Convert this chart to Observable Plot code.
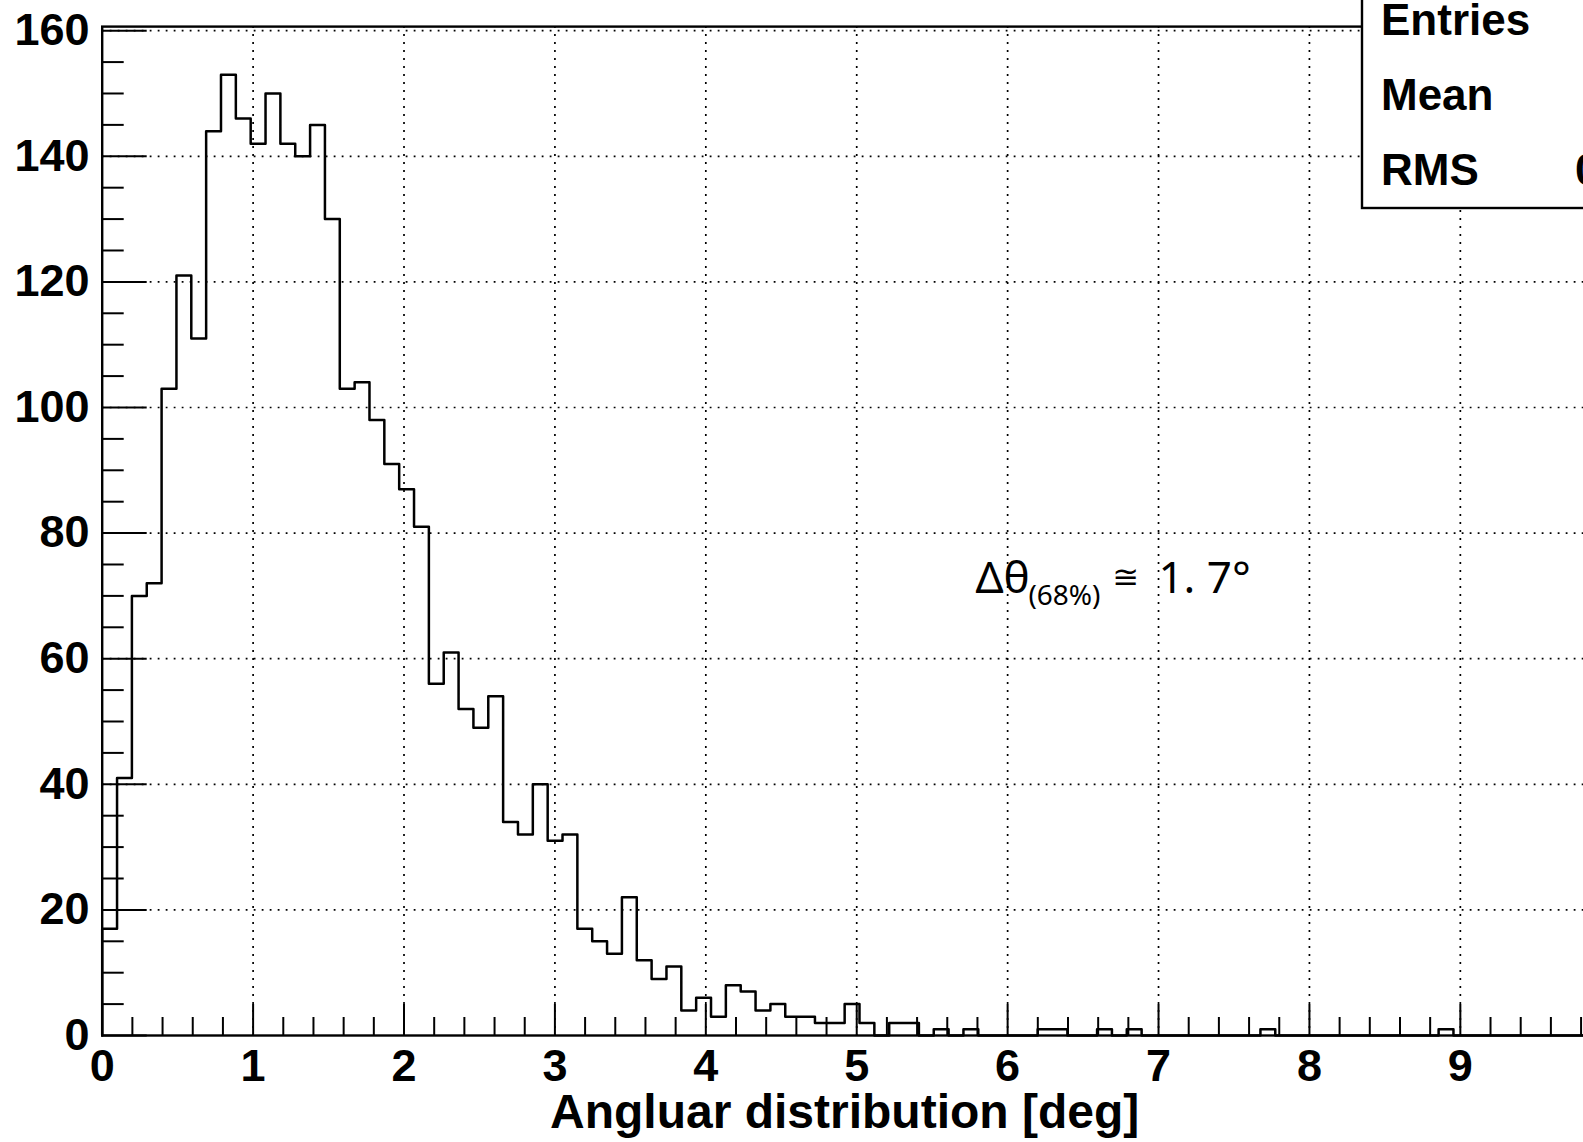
<!DOCTYPE html>
<html><head><meta charset="utf-8">
<script src="https://cdn.jsdelivr.net/npm/d3@7"></script>
<script src="https://cdn.jsdelivr.net/npm/@observablehq/plot@0.6"></script>
<style>html,body{margin:0;padding:0;overflow:hidden;background:#fff}svg{max-width:none !important;display:block}</style>
</head><body><div id="chart"></div>
<script>
// ---- data (100 bins starting at 0) ----
const binWidth = 0.0984;
const counts = [
  17, 41, 70, 72, 103, 121, 111, 144, 153, 146,
  142, 150, 142, 140, 145, 130, 103, 104, 98, 91,
  87, 81, 56, 61, 52, 49, 54, 34, 32, 40,
  31, 32, 17, 15, 13, 22, 12, 9, 11, 4,
  6, 3, 8, 7, 4, 5, 3, 3, 2, 2,
  5, 2, 0, 2, 2, 0, 1, 0, 1, 0,
  0, 0, 0, 1, 1, 0, 0, 1, 0, 1,
  0, 0, 0, 0, 0, 0, 0, 0, 1, 0,
  0, 0, 0, 0, 0, 0, 0, 0, 0, 0,
  1, 0, 0, 0, 0, 0, 0, 0, 0, 0
];
const xTickLabels = [0, 1, 2, 3, 4, 5, 6, 7, 8, 9];
const yTickLabels = [0, 20, 40, 60, 80, 100, 120, 140, 160];
const xTitle = "Angluar distribution [deg]";
const statLabels = ["Entries", "Mean", "RMS"];
const annotation = {x: 5.79, y: 70.4, main: "Δθ", sub: "(68%)", rel: "≅", val: "1. 7°"};

// ---- derived ----
const nBins = counts.length;
const xMax = nBins * binWidth;
const yMax = 160.65;
const steps = [{x: 0, y: 0}];
counts.forEach((c, k) => { steps.push({x: k * binWidth, y: c}); steps.push({x: (k + 1) * binWidth, y: c}); });
steps.push({x: xMax, y: 0});
const xMinor = d3.range(0.2, xMax, 0.2).filter(v => Math.abs(v - Math.round(v)) > 1e-6);
const yMinor = d3.range(5, 160.01, 5).filter(v => v % 20 !== 0);
const xGrid = xTickLabels.filter(v => v > 0);
const yGrid = yTickLabels.filter(v => v > 0);

const W = 1700, H = 1142;
const mL = 101.7, mT = 26.1, mB = 107;
const frameRight = 1586.6;
const mR = W - frameRight;
const frameW = frameRight - mL, frameH = H - mB - mT;
const dots = {stroke: "black", strokeWidth: 1.7, strokeDasharray: "1.8 6.2"};

const chart = Plot.plot({
  width: W, height: H,
  marginLeft: mL, marginRight: mR, marginTop: mT, marginBottom: mB,
  x: {domain: [0, xMax]},
  y: {domain: [0, yMax]},
  style: {fontFamily: "'Liberation Sans', Arial, Helvetica, sans-serif", background: "white", color: "black", overflow: "visible", maxWidth: "none"},
  marks: [
    Plot.ruleX(xGrid, {x: d => d, ...dots}),
    Plot.ruleY(yGrid, {y: d => d, ...dots}),
    Plot.line(steps, {x: "x", y: "y", stroke: "black", strokeWidth: 2.5}),
    Plot.tickX(xTickLabels, {x: d => d, stroke: "black", strokeWidth: 2, insetTop: frameH - 31}),
    Plot.tickX(xMinor, {x: d => d, stroke: "black", strokeWidth: 2, insetTop: frameH - 18}),
    Plot.tickY(yTickLabels, {y: d => d, stroke: "black", strokeWidth: 2, insetRight: frameW - 45}),
    Plot.tickY(yMinor, {y: d => d, stroke: "black", strokeWidth: 2, insetRight: frameW - 22}),
    Plot.frame({stroke: "black", strokeWidth: 2.4}),
    Plot.axisX(xTickLabels, {tickSize: 0, tickPadding: 14, fontSize: 45, fontWeight: "bold", label: null, tickFormat: d => String(d)}),
    Plot.axisY(yTickLabels, {tickSize: 0, tickPadding: 12.7, fontSize: 45, fontWeight: "bold", label: null, tickFormat: d => String(d)}),
    Plot.text([xTitle], {frameAnchor: "bottom", dy: 92, fontSize: 48, fontWeight: "bold", fill: "black"})
  ]
});
document.getElementById("chart").appendChild(chart);

// ---- annotation ----
const svg = d3.select(chart);
const sx = chart.scale("x"), sy = chart.scale("y");
const ax = sx.apply(annotation.x), ay = sy.apply(annotation.y);
const annFont = "'Noto Sans', 'Open Sans', 'DejaVu Sans', sans-serif";
const ann = svg.append("g").attr("text-anchor", "start").attr("fill", "black");
ann.append("text").attr("x", ax).attr("y", ay).attr("font-family", annFont).attr("font-size", 44).text(annotation.main);
ann.append("text").attr("x", ax + 53).attr("y", ay + 12).attr("font-family", annFont).attr("font-size", 28).text(annotation.sub);
ann.append("text").attr("x", ax + 137).attr("y", ay - 5).attr("font-family", "'DejaVu Sans', sans-serif").attr("font-size", 32).text(annotation.rel);
ann.append("text").attr("x", ax + 183).attr("y", ay).attr("font-family", annFont).attr("font-size", 44).text(annotation.val);

// ---- stats box ----
let n = 0, s = 0, s2 = 0;
counts.forEach((c, k) => { const xc = (k + 0.5) * binWidth; n += c; s += c * xc; s2 += c * xc * xc; });
const mean = s / n, rms = Math.sqrt(s2 / n - mean * mean);
const statValues = [String(n), mean.toPrecision(4), rms.toPrecision(4)];
const box = svg.append("g").attr("text-anchor", "start").attr("fill", "black");
box.append("rect").attr("x", 1362).attr("y", -10).attr("width", 400).attr("height", 218)
  .attr("fill", "white").attr("stroke", "black").attr("stroke-width", 2.4);
const baselines = [35, 110, 185];
statLabels.forEach((lab, i) => {
  box.append("text").attr("x", 1381).attr("y", baselines[i])
    .attr("font-family", "'Liberation Sans', Arial, sans-serif").attr("font-weight", "bold")
    .attr("font-size", 44).attr("fill", "black").text(lab);
});
const vals = statValues.map((v, i) => box.append("text").attr("y", baselines[i])
  .attr("font-family", "'Liberation Sans', Arial, sans-serif").attr("font-weight", "bold")
  .attr("font-size", 44).attr("fill", "black").attr("text-anchor", "end").text(v));
const rmsW = vals[2].node().getComputedTextLength();
const anchorX = 1575 + rmsW;
vals.forEach(v => v.attr("x", anchorX));
</script>
</body></html>
